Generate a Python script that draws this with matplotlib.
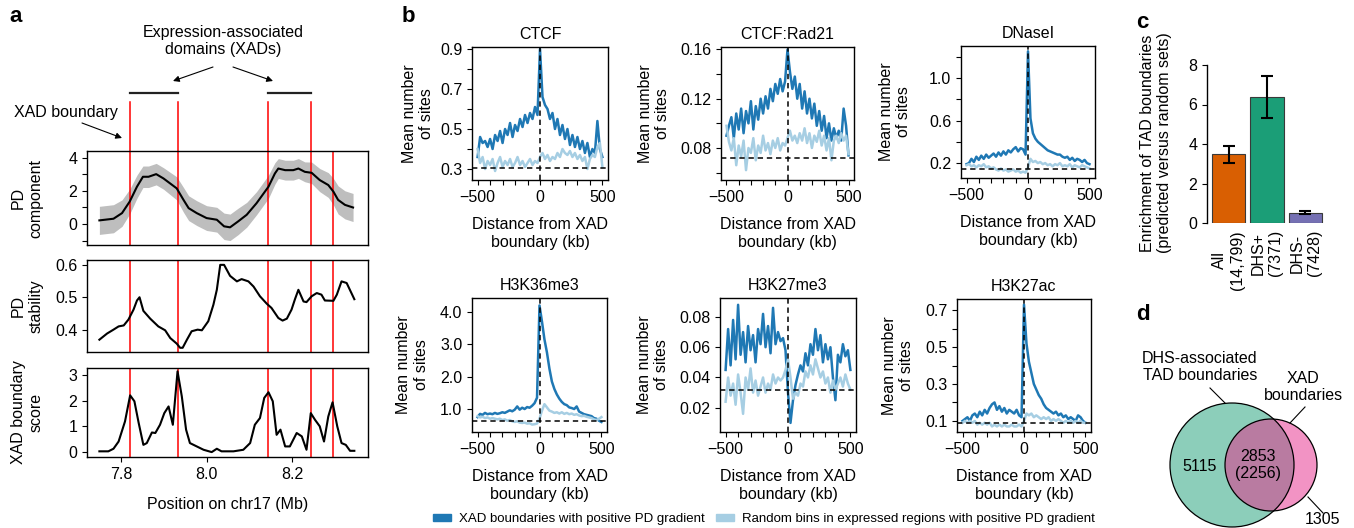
import numpy as np
import matplotlib
matplotlib.use("Agg")
import matplotlib.pyplot as plt
from matplotlib.patches import Patch, Circle, FancyArrowPatch
from matplotlib.ticker import FormatStrFormatter

plt.rcParams['font.family'] = ['Liberation Sans', 'DejaVu Sans']
plt.rcParams['font.size'] = 11.5
plt.rcParams['axes.linewidth'] = 1.0
for k in ('xtick', 'ytick'):
    plt.rcParams[k + '.major.size'] = 3.5
    plt.rcParams[k + '.minor.size'] = 3.5
    plt.rcParams[k + '.minor.width'] = 0.8
    plt.rcParams[k + '.labelsize'] = 11.5

# ---------------- panel a data ----------------
xad_bounds = [7.82, 7.932, 8.145, 8.244, 8.296]
xad_domains = [(7.82, 7.932), (8.145, 8.244)]

pd_pos = [7.749, 7.782, 7.802, 7.82, 7.837, 7.851, 7.864, 7.882, 7.899, 7.93,
          7.946, 7.958, 7.977, 8.0, 8.024, 8.041, 8.055, 8.074, 8.094, 8.117,
          8.145, 8.16, 8.168, 8.184, 8.203, 8.215, 8.23, 8.246, 8.265, 8.285,
          8.297, 8.308, 8.324, 8.343]
pd_comp = [0.22, 0.32, 0.66, 1.36, 2.26, 2.86, 2.86, 3.02, 2.76, 2.16,
           1.46, 0.96, 0.66, 0.36, 0.26, -0.14, -0.2, 0.16, 0.56, 1.26,
           2.26, 3.06, 3.36, 3.26, 3.26, 3.36, 3.16, 3.1, 2.66, 2.36,
           1.96, 1.46, 1.16, 1.0]
pd_band = [0.85, 0.85, 0.8, 0.75, 0.7, 0.65, 0.65, 0.65, 0.65, 0.7,
           0.75, 0.75, 0.75, 0.75, 0.75, 0.8, 0.8, 0.8, 0.75, 0.7,
           0.7, 0.65, 0.6, 0.6, 0.6, 0.6, 0.6, 0.65, 0.7, 0.75,
           0.8, 0.85, 0.85, 0.85]

stab_pos = [7.749, 7.767, 7.782, 7.794, 7.806, 7.817, 7.829, 7.837, 7.843, 7.852,
            7.868, 7.887, 7.903, 7.915, 7.930, 7.938, 7.944, 7.954, 7.965, 7.979,
            7.989, 8.004, 8.016, 8.024, 8.032, 8.041, 8.055, 8.071, 8.082, 8.098,
            8.110, 8.125, 8.141, 8.152, 8.168, 8.178, 8.188, 8.199, 8.207, 8.215,
            8.227, 8.234, 8.246, 8.258, 8.269, 8.277, 8.297, 8.305, 8.316, 8.328,
            8.346]
stab = [0.369, 0.388, 0.40, 0.41, 0.413, 0.431, 0.462, 0.49, 0.50, 0.458,
        0.434, 0.41, 0.398, 0.374, 0.357, 0.344, 0.344, 0.369, 0.395, 0.40,
        0.398, 0.426, 0.477, 0.523, 0.60, 0.60, 0.566, 0.549, 0.556, 0.549,
        0.533, 0.503, 0.48, 0.467, 0.436, 0.428, 0.434, 0.462, 0.494, 0.523,
        0.487, 0.485, 0.503, 0.513, 0.508, 0.49, 0.489, 0.508, 0.549, 0.544,
        0.494]

score_pos = [7.749, 7.770, 7.782, 7.794, 7.809, 7.821, 7.831, 7.841, 7.852, 7.860,
             7.872, 7.880, 7.891, 7.901, 7.911, 7.921, 7.932, 7.942, 7.952, 7.961,
             7.977, 7.993, 8.012, 8.024, 8.035, 8.063, 8.086, 8.102, 8.113, 8.125,
             8.135, 8.145, 8.155, 8.164, 8.173, 8.184, 8.195, 8.211, 8.223, 8.234,
             8.244, 8.254, 8.265, 8.275, 8.285, 8.295, 8.306, 8.316, 8.326, 8.336,
             8.346]
score = [0.03, 0.03, 0.13, 0.41, 1.19, 2.2, 1.97, 1.13, 0.28, 0.35,
         0.76, 0.74, 1.06, 1.51, 1.77, 1.06, 3.13, 2.16, 0.87, 0.35,
         0.22, 0.09, 0.0, 0.13, 0.03, 0.03, 0.09, 0.35, 1.06, 1.32,
         2.1, 2.32, 1.97, 0.67, 0.87, 0.22, 0.22, 0.74, 0.61, 0.09,
         1.51, 1.25, 1.0, 0.41, 1.38, 1.93, 1.0, 0.35, 0.28, 0.05,
         0.05]

# ---------------- panel b data ----------------
dist_kb = np.arange(-500, 501, 20)
b_titles = ['CTCF', 'CTCF:Rad21', 'DNaseI', 'H3K36me3', 'H3K27me3', 'H3K27ac']

ctcf_xad = [0.36, 0.46, 0.43, 0.44, 0.41, 0.45, 0.40, 0.47, 0.44, 0.49,
            0.43, 0.50, 0.47, 0.53, 0.46, 0.52, 0.49, 0.55, 0.51, 0.57,
            0.53, 0.58, 0.55, 0.61, 0.57, 0.90, 0.66, 0.62, 0.60, 0.55,
            0.58, 0.50, 0.55, 0.47, 0.52, 0.45, 0.50, 0.42, 0.47, 0.41,
            0.46, 0.40, 0.44, 0.38, 0.43, 0.36, 0.40, 0.38, 0.54, 0.40,
            0.36]
ctcf_rand = [0.40, 0.33, 0.36, 0.30, 0.34, 0.32, 0.35, 0.29, 0.33, 0.36,
             0.31, 0.34, 0.32, 0.35, 0.31, 0.33, 0.36, 0.32, 0.34, 0.31,
             0.33, 0.35, 0.32, 0.34, 0.33, 0.36, 0.38, 0.35, 0.37, 0.34,
             0.36, 0.35, 0.38, 0.36, 0.40, 0.38, 0.37, 0.39, 0.36, 0.38,
             0.35, 0.37, 0.34, 0.36, 0.30, 0.35, 0.37, 0.36, 0.41, 0.43,
             0.31]
rad21_xad = [0.090, 0.098, 0.105, 0.088, 0.108, 0.095, 0.112, 0.092, 0.110, 0.100,
             0.118, 0.095, 0.114, 0.103, 0.120, 0.108, 0.122, 0.112, 0.128, 0.118,
             0.132, 0.124, 0.136, 0.126, 0.134, 0.160, 0.142, 0.128, 0.138, 0.120,
             0.132, 0.112, 0.126, 0.108, 0.120, 0.104, 0.116, 0.098, 0.110, 0.094,
             0.106, 0.088, 0.100, 0.086, 0.096, 0.088, 0.094, 0.086, 0.112, 0.098,
             0.074]
rad21_rand = [0.098, 0.085, 0.078, 0.088, 0.066, 0.082, 0.073, 0.086, 0.062, 0.080,
              0.076, 0.088, 0.070, 0.082, 0.076, 0.090, 0.078, 0.084, 0.075, 0.086,
              0.080, 0.088, 0.078, 0.084, 0.082, 0.088, 0.094, 0.086, 0.090, 0.084,
              0.092, 0.086, 0.096, 0.084, 0.092, 0.080, 0.090, 0.085, 0.094, 0.082,
              0.090, 0.078, 0.088, 0.070, 0.086, 0.090, 0.084, 0.092, 0.086, 0.090,
              0.075]
dnase_xad = [0.19, 0.20, 0.24, 0.21, 0.26, 0.23, 0.27, 0.24, 0.28, 0.25,
             0.27, 0.29, 0.26, 0.30, 0.27, 0.31, 0.28, 0.32, 0.30, 0.33,
             0.35, 0.31, 0.34, 0.33, 0.28, 1.25, 0.62, 0.48, 0.43, 0.40,
             0.38, 0.36, 0.34, 0.32, 0.31, 0.30, 0.29, 0.28, 0.28, 0.26,
             0.25, 0.26, 0.23, 0.25, 0.22, 0.24, 0.23, 0.21, 0.23, 0.20,
             0.19]
dnase_rand = [0.18, 0.19, 0.17, 0.18, 0.16, 0.18, 0.17, 0.19, 0.16, 0.17,
              0.15, 0.16, 0.14, 0.13, 0.15, 0.13, 0.14, 0.12, 0.13, 0.14,
              0.12, 0.13, 0.11, 0.12, 0.11, 0.16, 0.24, 0.21, 0.22, 0.20,
              0.21, 0.19, 0.20, 0.18, 0.19, 0.17, 0.19, 0.18, 0.20, 0.17,
              0.18, 0.17, 0.19, 0.16, 0.18, 0.17, 0.16, 0.18, 0.17, 0.16,
              0.15]
k36_xad = [0.75, 0.85, 0.82, 0.88, 0.84, 0.86, 0.84, 0.88, 0.85, 0.87,
           0.90, 0.88, 0.92, 0.96, 0.93, 0.98, 1.08, 0.98, 1.04, 1.00,
           1.06, 1.04, 1.10, 1.18, 1.35, 4.20, 3.70, 3.15, 2.75, 2.25,
           1.85, 1.62, 1.45, 1.32, 1.22, 1.15, 1.12, 1.05, 1.03, 1.00,
           1.08, 0.92, 0.88, 0.84, 0.82, 0.80, 0.78, 0.72, 0.70, 0.64,
           0.60]
k36_rand = [0.78, 0.74, 0.76, 0.72, 0.74, 0.70, 0.72, 0.70, 0.68, 0.70,
            0.66, 0.68, 0.64, 0.66, 0.62, 0.60, 0.62, 0.58, 0.57, 0.58,
            0.55, 0.56, 0.52, 0.53, 0.55, 0.70, 0.95, 1.15, 1.05, 0.95,
            0.92, 0.88, 0.90, 0.86, 0.90, 0.85, 0.88, 0.84, 0.86, 0.82,
            0.84, 0.80, 0.78, 0.79, 0.76, 0.74, 0.72, 0.68, 0.66, 0.70,
            0.75]
k27me3_xad = [0.045, 0.072, 0.048, 0.078, 0.052, 0.088, 0.055, 0.070, 0.050, 0.074,
              0.058, 0.068, 0.050, 0.072, 0.062, 0.082, 0.060, 0.074, 0.056, 0.086,
              0.062, 0.070, 0.064, 0.066, 0.058, 0.030, 0.010, 0.025, 0.035, 0.042,
              0.048, 0.044, 0.056, 0.048, 0.062, 0.055, 0.072, 0.058, 0.068, 0.050,
              0.062, 0.052, 0.060, 0.040, 0.025, 0.055, 0.050, 0.062, 0.054, 0.058,
              0.045]
k27me3_rand = [0.024, 0.040, 0.028, 0.036, 0.022, 0.042, 0.030, 0.016, 0.040, 0.032,
               0.046, 0.030, 0.038, 0.028, 0.034, 0.040, 0.030, 0.036, 0.032, 0.042,
               0.036, 0.040, 0.038, 0.040, 0.045, 0.052, 0.040, 0.026, 0.030, 0.028,
               0.036, 0.034, 0.044, 0.040, 0.048, 0.042, 0.052, 0.046, 0.040, 0.044,
               0.036, 0.040, 0.030, 0.038, 0.032, 0.036, 0.040, 0.034, 0.042, 0.036,
               0.032]
k27ac_xad = [0.10, 0.11, 0.12, 0.10, 0.13, 0.14, 0.12, 0.15, 0.13, 0.16,
             0.14, 0.17, 0.19, 0.20, 0.16, 0.18, 0.15, 0.17, 0.14, 0.16,
             0.15, 0.14, 0.16, 0.13, 0.12, 0.73, 0.52, 0.42, 0.36, 0.30,
             0.27, 0.24, 0.22, 0.19, 0.17, 0.16, 0.15, 0.14, 0.15, 0.13,
             0.14, 0.12, 0.13, 0.11, 0.12, 0.11, 0.10, 0.13, 0.12, 0.10,
             0.09]
k27ac_rand = [0.09, 0.10, 0.09, 0.10, 0.09, 0.10, 0.08, 0.09, 0.08, 0.09,
              0.08, 0.09, 0.07, 0.08, 0.07, 0.08, 0.07, 0.08, 0.07, 0.07,
              0.08, 0.07, 0.07, 0.08, 0.07, 0.10, 0.14, 0.13, 0.14, 0.12,
              0.13, 0.12, 0.11, 0.12, 0.11, 0.12, 0.10, 0.11, 0.10, 0.11,
              0.10, 0.09, 0.10, 0.09, 0.10, 0.09, 0.10, 0.09, 0.10, 0.09,
              0.09]

xad_series = [ctcf_xad, rad21_xad, dnase_xad, k36_xad, k27me3_xad, k27ac_xad]
rand_series = [ctcf_rand, rad21_rand, dnase_rand, k36_rand, k27me3_rand, k27ac_rand]
genome_mean = [0.305, 0.072, 0.145, 0.62, 0.032, 0.088]
b_ylims = [(0.245, 0.91), (0.054, 0.162), (0.06, 1.30), (0.29, 4.43), (0.004, 0.0925), (0.04, 0.76)]
b_major = [[0.3, 0.5, 0.7, 0.9], [0.08, 0.12, 0.16], [0.2, 0.6, 1.0],
           [1.0, 2.0, 3.0, 4.0], [0.02, 0.04, 0.06, 0.08], [0.1, 0.3, 0.5, 0.7]]
b_minor = [[0.4, 0.6, 0.8], [0.06, 0.10, 0.14], [0.4, 0.8, 1.2], [], [], [0.2, 0.4, 0.6]]
b_fmt = ['%.1f', '%.2f', '%.1f', '%.1f', '%.2f', '%.1f']
legend_labels = ['XAD boundaries with positive PD gradient',
                 'Random bins in expressed regions with positive PD gradient']

# ---------------- panel c / d data ----------------
c_cats = ['All\n(14,799)', 'DHS+\n(7371)', 'DHS-\n(7428)']
c_enrich = [3.49, 6.38, 0.53]
c_low = [3.04, 5.32, 0.46]
c_high = [3.90, 7.44, 0.61]
c_colors = ['#d95f02', '#1b9e77', '#7570b3']

venn_sets = ['DHS-associated\nTAD boundaries', 'XAD\nboundaries']
venn_counts = ['5115', '2853\n(2256)', '1305']

DARK = '#1f78b4'
LIGHT = '#a6cee3'

W, H = 1354, 528
fig = plt.figure(figsize=(W / 100, H / 100), dpi=100)


def box(l, t, r, b):
    return [l / W, 1 - b / H, (r - l) / W, (b - t) / H]


def fpx(x, y):
    return (x / W, 1 - y / H)


def arrow(p0, p1):
    fig.add_artist(FancyArrowPatch(fpx(*p0), fpx(*p1), transform=fig.transFigure,
                                   arrowstyle='-|>', mutation_scale=9, lw=0.8,
                                   color='black', shrinkA=0, shrinkB=0))


# ================= panel a =================
ax1 = fig.add_axes(box(87, 151, 368, 245))
ax2 = fig.add_axes(box(87, 260, 368, 352))
ax3 = fig.add_axes(box(87, 368, 368, 457))

lo = [v - b for v, b in zip(pd_comp, pd_band)]
hi = [v + b for v, b in zip(pd_comp, pd_band)]
ax1.fill_between(pd_pos, lo, hi, color='#bebebe', lw=0, zorder=1)
ax1.plot(pd_pos, pd_comp, color='black', lw=1.5, zorder=3)
ax2.plot(stab_pos, stab, color='black', lw=1.5, zorder=3)
ax3.plot(score_pos, score, color='black', lw=1.5, zorder=3)

for ax in (ax1, ax2, ax3):
    for b in xad_bounds:
        ax.axvline(b, color='red', lw=1.1, zorder=2)
    ax.set_xlim(7.72, 8.378)

tr = ax1.get_xaxis_transform()
for b in xad_bounds[:4]:
    ax1.plot([b, b], [1.0, 1.52], color='red', lw=1.1, transform=tr, clip_on=False)
for s, e in xad_domains:
    ax1.plot([s, e], [1.617, 1.617], color='#222222', lw=1.6, transform=tr, clip_on=False)

ax1.set_ylim(-1.27, 4.42)
ax1.set_yticks([-1, 0, 1, 2, 3, 4])
ax1.set_yticklabels(['', '0', '', '2', '', '4'])
ax2.set_ylim(0.331, 0.615)
ax2.set_yticks([0.4, 0.5, 0.6])
ax2.yaxis.set_major_formatter(FormatStrFormatter('%.1f'))
ax3.set_ylim(-0.19, 3.26)
ax3.set_yticks([0, 1, 2, 3])
for ax in (ax1, ax2):
    ax.tick_params(axis='x', bottom=False, labelbottom=False)
ax3.set_xticks([7.8, 8.0, 8.2])
ax3.xaxis.set_major_formatter(FormatStrFormatter('%.1f'))
ax3.set_xlabel('Position on chr17 (Mb)', labelpad=11)

for ax, lab in zip((ax1, ax2, ax3), ['PD\ncomponent', 'PD\nstability', 'XAD boundary\nscore']):
    ax.set_ylabel(lab)
    ax.yaxis.set_label_coords(-0.155, 0.5)

fig.text(*fpx(223, 41), 'Expression-associated\ndomains (XADs)', ha='center', va='center')
arrow((213, 67), (173, 81))
arrow((233, 67), (273, 81))
fig.text(*fpx(66, 113), 'XAD boundary', ha='center', va='center')
arrow((82, 123), (122, 138))

# ================= panel b =================
b_boxes = [(472, 47, 608, 180), (721, 47, 854, 180), (961, 46, 1095, 178),
           (472, 298, 607, 432), (720, 298, 856, 432), (957, 299, 1091, 432)]
ylab_x = [-0.28, -0.38, -0.37, -0.32, -0.375, -0.32]

for i, name in enumerate(b_titles):
    ax = fig.add_axes(box(*b_boxes[i]))
    ax.plot(dist_kb, xad_series[i], color=DARK, lw=1.8, zorder=2)
    ax.plot(dist_kb, rand_series[i], color=LIGHT, lw=1.8, zorder=2.5)
    ax.axvline(0, color='black', ls=(0, (3.5, 2.5)), lw=1.1, zorder=3)
    ax.axhline(genome_mean[i], color='black', ls=(0, (3.5, 2.5)), lw=1.1, zorder=3)
    ax.set_xlim(-545, 545)
    ax.set_ylim(*b_ylims[i])
    ax.set_xticks([-500, 0, 500])
    ax.set_xticks(np.arange(-500, 501, 100), minor=True)
    ax.set_yticks(b_major[i])
    ax.set_yticks(b_minor[i], minor=True)
    ax.yaxis.set_major_formatter(FormatStrFormatter(b_fmt[i]))
    ax.set_title(name, fontsize=11.5, pad=6)
    ax.set_xlabel('Distance from XAD\nboundary (kb)', labelpad=9)
    ax.set_ylabel('Mean number\nof sites')
    ax.yaxis.set_label_coords(ylab_x[i], 0.5)

fig.legend([Patch(color=DARK), Patch(color=LIGHT)], legend_labels,
           loc='center', bbox_to_anchor=fpx(764, 519), ncol=2, frameon=False,
           fontsize=9.5, handlelength=1.4, handleheight=0.45,
           handletextpad=0.6, columnspacing=0.8)

# ================= panel c =================
axc = fig.add_axes(box(1207, 65, 1327, 223))
xs = np.arange(len(c_cats))
axc.bar(xs, c_enrich, width=0.86, color=c_colors, edgecolor='#3a3a3a', lw=0.8)
yerr = [[e - l for e, l in zip(c_enrich, c_low)], [h - e for e, h in zip(c_enrich, c_high)]]
axc.errorbar(xs, c_enrich, yerr=yerr, fmt='none', ecolor='black',
             elinewidth=1.5, capsize=4, capthick=1.5)
axc.set_xlim(-0.56, 2.56)
axc.set_ylim(0, 8)
for s in ('top', 'right', 'bottom'):
    axc.spines[s].set_visible(False)
axc.spines['left'].set_bounds(0, 8)
axc.set_yticks([0, 2, 4, 6, 8])
axc.set_xticks(xs)
axc.set_xticklabels(c_cats, rotation=90, va='top', ha='center', multialignment='center')
axc.tick_params(axis='x', length=0, pad=5)
fig.text(*fpx(1156, 143), 'Enrichment of TAD boundaries\n(predicted versus random sets)',
         rotation=90, ha='center', va='center')

# ================= panel d =================
axd = fig.add_axes(box(1130, 330, 1354, 528))
axd.set_xlim(1130, 1354)
axd.set_ylim(528, 330)
axd.axis('off')
axd.add_patch(Circle((1232, 465), 62, facecolor='#1b9e77', alpha=0.5, edgecolor='none'))
axd.add_patch(Circle((1271, 465), 46, facecolor='#e7298a', alpha=0.5, edgecolor='none'))
axd.add_patch(Circle((1232, 465), 62, fill=False, edgecolor='black', lw=0.9))
axd.add_patch(Circle((1271, 465), 46, fill=False, edgecolor='black', lw=0.9))
axd.text(1200, 367, venn_sets[0], ha='center', va='center')
axd.text(1303, 387, venn_sets[1], ha='center', va='center')
axd.plot([1210, 1225], [388, 403], color='black', lw=0.8)
axd.plot([1305, 1290], [407, 423], color='black', lw=0.8)
axd.plot([1308, 1323], [497, 513], color='black', lw=0.8)
axd.text(1200, 467, venn_counts[0], ha='center', va='center')
axd.text(1258, 465, venn_counts[1], ha='center', va='center')
axd.text(1322, 527, venn_counts[2], ha='center', va='bottom', clip_on=False)

# panel letters
for lab, (x, y) in zip('abcd', [(9, 17), (402, 16), (1136, 22), (1136, 315)]):
    fig.text(*fpx(x, y), lab, fontsize=16, fontweight='bold', va='center', ha='left')

fig.savefig('out.png', dpi=100)
